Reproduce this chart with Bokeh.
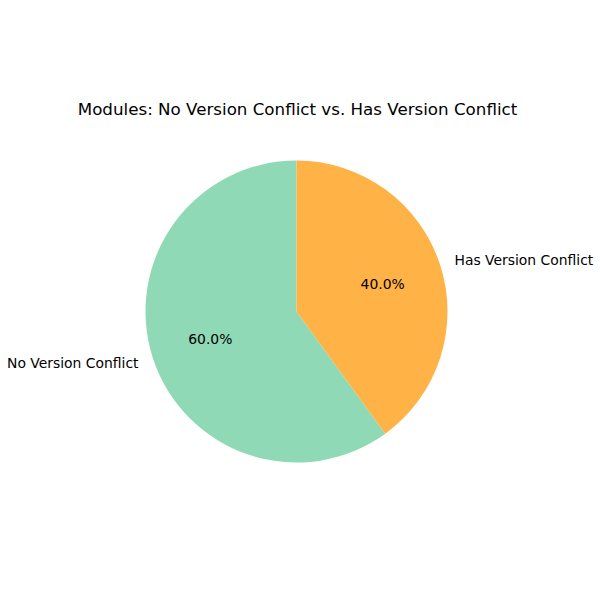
import numpy as np
from bokeh.plotting import figure
from bokeh.models import Range1d, ColumnDataSource
from bokeh.core.properties import value
from bokeh.embed import file_html
from bokeh.resources import INLINE

categories = ["No Version Conflict", "Has Version Conflict"]
values = [60, 40]
colors = ["#8fd9b6", "#ffb347"]
title_text = "Modules: No Version Conflict vs. Has Version Conflict"

cx, cy, r = 296, 289, 151
fracs = np.array(values, dtype=float) / sum(values)
cum = np.concatenate([[0], np.cumsum(fracs)])
start = np.pi / 2 + 2 * np.pi * cum[:-1]
end = np.pi / 2 + 2 * np.pi * cum[1:]
mid = (start + end) / 2

src = ColumnDataSource(dict(start=start, end=end, color=colors))

p = figure(width=600, height=600, output_backend="svg", toolbar_location=None,
           x_range=Range1d(0, 600), y_range=Range1d(0, 600), min_border=0)
p.axis.visible = False
p.grid.visible = False
p.outline_line_color = None

p.wedge(x=cx, y=cy, radius=r, start_angle="start", end_angle="end",
        fill_color="color", line_color=None, source=src)

lx = cx + 1.1 * r * np.cos(mid)
ly = cy + 1.1 * r * np.sin(mid)
align = ["right" if np.cos(m) < 0 else "left" for m in mid]
p.text(x=lx, y=ly, text=categories, text_align=align, text_baseline="middle",
       text_font=value("DejaVu Sans"), text_font_size="13.9px", text_color="black")

px = cx + 0.6 * r * np.cos(mid)
py = cy + 0.6 * r * np.sin(mid)
pct = [f"{f*100:.1f}%" for f in fracs]
p.text(x=px, y=py, text=pct, text_align="center", text_baseline="middle",
       text_font=value("DejaVu Sans"), text_font_size="13.9px", text_color="black")

p.text(x=[297], y=[600 - 108], text=[title_text], text_align="center", text_baseline="middle",
       text_font=value("DejaVu Sans"), text_font_size="16.7px", text_color="black")

open("out.html", "w").write(file_html(p, INLINE))
